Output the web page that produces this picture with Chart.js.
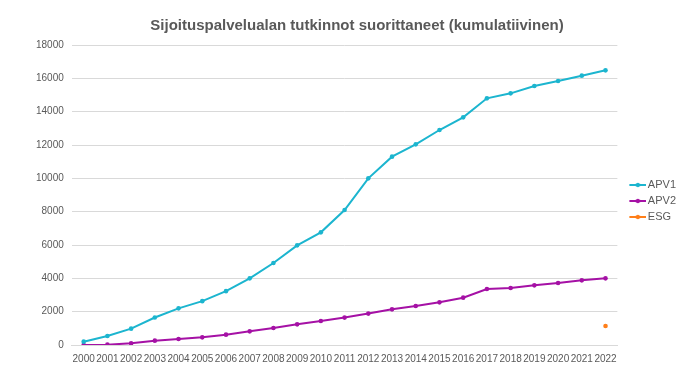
<!DOCTYPE html>
<html>
<head>
<meta charset="utf-8">
<script src="https://cdn.jsdelivr.net/npm/chart.js@4"></script>
<style>
  body { margin: 0; background: #fff; }
  #wrap { width: 700px; height: 371px; }
</style>
</head>
<body>
<div id="wrap"><canvas id="myChart" width="700" height="371"></canvas></div>
<script>
// Data
const years = ['2000', '2001', '2002', '2003', '2004', '2005', '2006', '2007', '2008', '2009', '2010',
    '2011', '2012', '2013', '2014', '2015', '2016', '2017', '2018', '2019', '2020', '2021', '2022'];

const apv1 = [200, 540, 980, 1650, 2200, 2630, 3230, 4000, 4920, 5980, 6760,
    8100, 10000, 11300, 12040, 12900, 13660, 14800, 15100, 15540, 15840, 16160, 16480];

const apv2 = [0, 20, 100, 260, 360, 460, 620, 820, 1020, 1240, 1440,
    1645, 1885, 2140, 2340, 2560, 2840, 3360, 3420, 3580, 3720, 3880, 4000];

const esg = [null, null, null, null, null, null, null, null, null, null, null,
    null, null, null, null, null, null, null, null, null, null, null, 1140];

const yTicks = [0, 2000, 4000, 6000, 8000, 10000, 12000, 14000, 16000, 18000];

const colors = {
    apv1: '#1cb5cf',
    apv2: '#a511a5',
    esg: '#ff7f1a'
};

const fontFamily = 'Liberation Sans, Arial, sans-serif';

// Legend marker: short line with a dot in the middle
// (the image is wider than the legend box, left part is empty)
function legendMarker(color) {
    const c = document.createElement('canvas');
    c.width = 28;
    c.height = 6;
    const g = c.getContext('2d');
    g.strokeStyle = color;
    g.lineWidth = 2;
    g.beginPath();
    g.moveTo(11, 3);
    g.lineTo(28, 3);
    g.stroke();
    g.fillStyle = color;
    g.beginPath();
    g.arc(19.5, 3, 2.2, 0, Math.PI * 2);
    g.fill();
    return c;
}

function makeDataset(label, data, color) {
    return {
        label: label,
        data: data,
        borderColor: color,
        backgroundColor: color,
        borderWidth: 2,
        pointRadius: 2.3,
        pointBorderWidth: 0,
        pointHoverRadius: 2.3,
        fill: false,
        tension: 0,
        spanGaps: false
    };
}

// shift the legend block down a little, like the reference
const legendShift = {
    id: 'legendShift',
    afterLayout(ch) {
        if (ch.legend) {
            ch.legend.top += 12;
            ch.legend.bottom += 12;
        }
    }
};

const ctx = document.getElementById('myChart').getContext('2d');
const chart = new Chart(ctx, {
    type: 'line',
    data: {
        labels: years,
        datasets: [
            makeDataset('APV1', apv1, colors.apv1),
            makeDataset('APV2', apv2, colors.apv2),
            makeDataset('ESG', esg, colors.esg)
        ]
    },
    plugins: [legendShift],
    options: {
        responsive: false,
        animation: false,
        layout: {
            padding: { left: 28, right: 14, top: 13, bottom: 6 }
        },
        plugins: {
            title: {
                display: true,
                text: 'Sijoituspalvelualan tutkinnot suorittaneet (kumulatiivinen)',
                color: '#595959',
                font: { family: fontFamily, size: 15, weight: 'bold' },
                padding: { top: 4, bottom: 10 }
            },
            legend: {
                position: 'right',
                align: 'center',
                labels: {
                    color: '#595959',
                    font: { family: fontFamily, size: 11 },
                    usePointStyle: true,
                    pointStyleWidth: 20,
                    padding: 5,
                    generateLabels: function (ch) {
                        return ch.data.datasets.map((ds, i) => ({
                            text: ds.label,
                            fontColor: '#595959',
                            pointStyle: legendMarker(ds.borderColor),
                            datasetIndex: i,
                            hidden: !ch.isDatasetVisible(i),
                            lineWidth: 0
                        }));
                    }
                }
            },
            tooltip: { enabled: false }
        },
        scales: {
            x: {
                offset: true,
                grid: { display: false },
                border: { color: '#d9d9d9' },
                ticks: {
                    color: '#595959',
                    font: { family: fontFamily, size: 10 },
                    maxRotation: 0,
                    autoSkip: false,
                    padding: 0
                }
            },
            y: {
                min: 0,
                max: 18000,
                afterBuildTicks: function (axis) {
                    axis.ticks = yTicks.map(v => ({ value: v }));
                },
                grid: { color: '#d9d9d9', drawTicks: false },
                border: { display: false },
                ticks: {
                    color: '#595959',
                    font: { family: fontFamily, size: 10 },
                    padding: 8,
                    callback: v => String(v)
                }
            }
        }
    }
});
</script>
</body>
</html>
